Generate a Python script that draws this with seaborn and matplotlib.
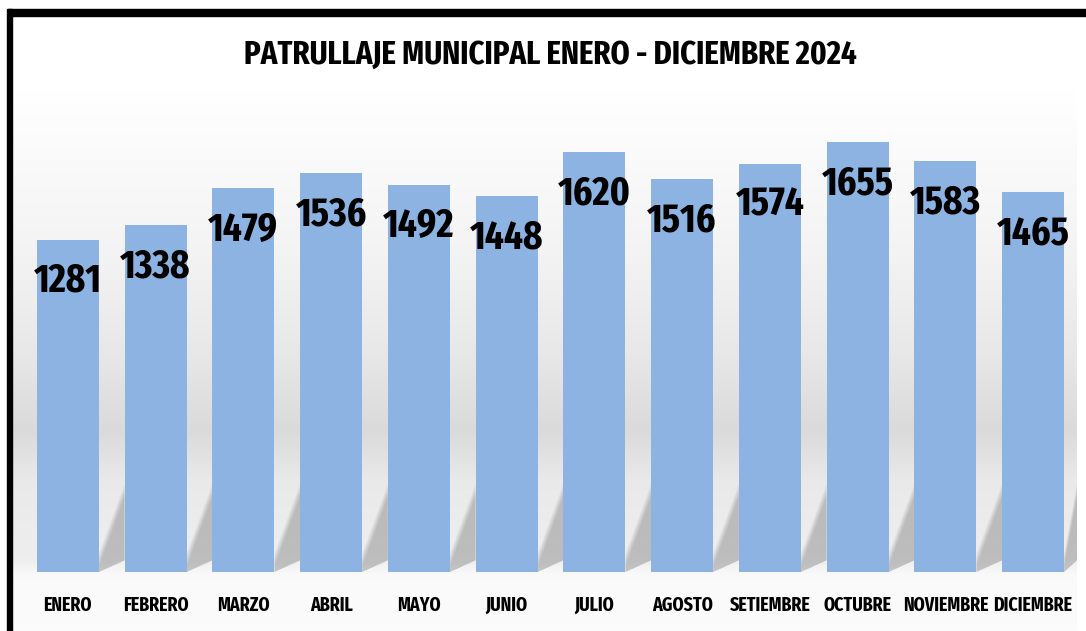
import matplotlib
matplotlib.use("Agg")
import matplotlib.pyplot as plt
from matplotlib.patches import Polygon, Rectangle
import numpy as np
import seaborn as sns

meses = ["ENERO", "FEBRERO", "MARZO", "ABRIL", "MAYO", "JUNIO", "JULIO",
         "AGOSTO", "SETIEMBRE", "OCTUBRE", "NOVIEMBRE", "DICIEMBRE"]
patrullajes = [1281, 1338, 1479, 1536, 1492, 1448, 1620, 1516, 1574, 1655, 1583, 1465]
titulo = "PATRULLAJE MUNICIPAL ENERO - DICIEMBRE 2024"

sns.set_theme(style="white")
plt.rcParams["font.family"] = ["Fira Sans Extra Condensed", "DejaVu Sans"]

W, H = 1086, 631
fig = plt.figure(figsize=(W / 100, H / 100), dpi=100)
fig.patch.set_facecolor("white")

# fondo degradado (en pixeles)
bg = fig.add_axes([0, 0, 1, 1], zorder=0)
bg.set_xlim(0, W)
bg.set_ylim(H, 0)
bg.axis("off")
pos_y = [0, 90, 250, 350, 430, 480, 560, 575, H]
gris = [1.0, 1.0, 0.955, 0.91, 0.855, 0.915, 0.935, 0.98, 0.985]
col = np.interp(np.arange(H), pos_y, gris)
img = np.repeat(col[:, None, None], 3, axis=2)
bg.imshow(img, extent=(12, 1077, H, 0), aspect="auto", interpolation="bilinear")
# marco negro
bg.add_patch(Rectangle((8, 9), W - 8, 7, color="black"))
bg.add_patch(Rectangle((7, 9), 5, H - 9, color="black"))

ax = fig.add_axes([24 / W, 59 / H, 1053 / W, 477 / H], zorder=1)
ax.patch.set_alpha(0)

ancho = 0.707
sns.barplot(x=meses, y=patrullajes, color="#8DB3E2", saturation=1,
            width=ancho, linewidth=0, ax=ax, zorder=2)

# sombras diagonales detras de las barras
for i in range(len(meses)):
    xr = i + ancho / 2
    xn = min(i + 1 - ancho / 2, len(meses) - 0.5)
    for k in range(6):
        ax.add_patch(Polygon([(xr, 0), (xr, 20 + 10 * k), (xn, 290 + 10 * k), (xn, 45)],
                             closed=True, facecolor="black", alpha=0.035,
                             edgecolor="none", zorder=1))

for i, v in enumerate(patrullajes):
    ax.annotate(f"{v}", (i, v), xytext=(0, -30), textcoords="offset points",
                ha="center", va="center", fontsize=29, fontweight="bold",
                color="black", zorder=3)

ax.set_xlim(-0.5, len(meses) - 0.5)
ax.set_ylim(0, 1838)
ax.set_yticks([])
ax.set_ylabel("")
ax.set_xlabel("")
sns.despine(ax=ax, left=True, bottom=True)
ax.tick_params(axis="x", length=0, pad=17, labelsize=14)
for t in ax.get_xticklabels():
    t.set_fontweight("bold")
    t.set_color("black")

fig.text(0.507, 0.913, titulo, ha="center", va="center", fontsize=24,
         fontweight="bold", color="black")

fig.savefig("out.png", dpi=100)
